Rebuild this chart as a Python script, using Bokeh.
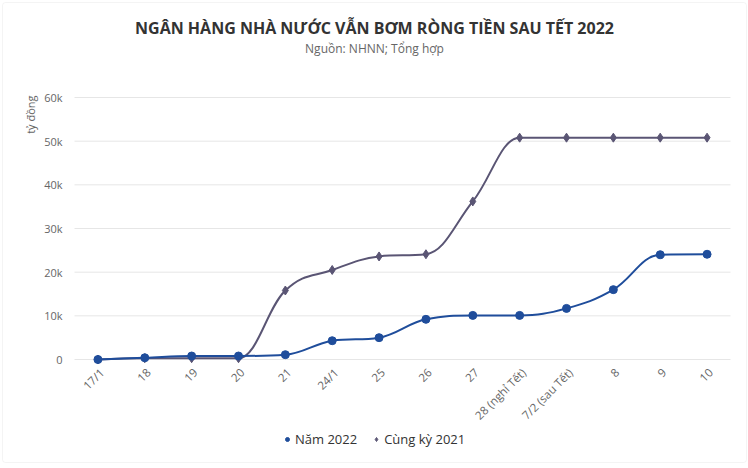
import math
from bokeh.plotting import figure
from bokeh.models import (Range1d, Label, Legend, LegendItem,
                          ColumnDataSource, BoxAnnotation)
from bokeh.core.properties import value
from bokeh.embed import file_html
from bokeh.resources import INLINE

# ---------------- data ----------------
categories = ["17/1", "18", "19", "20", "21", "24/1", "25", "26", "27",
              "28 (nghỉ Tết)", "7/2 (sau Tết)", "8", "9", "10"]
nam_2022 = [0, 400, 800, 800, 1100, 4300, 5000, 9200, 10100, 10100,
            11700, 16000, 24000, 24100]
cung_ky_2021 = [0, 300, 300, 300, 15800, 20500, 23600, 24100, 36200,
                50800, 50800, 50800, 50800, 50800]
y_ticks = [0, 10000, 20000, 30000, 40000, 50000, 60000]
y_tick_labels = ["0", "10k", "20k", "30k", "40k", "50k", "60k"]
series_names = ["Năm 2022", "Cùng kỳ 2021"]
title_text = "NGÂN HÀNG NHÀ NƯỚC VẪN BƠM RÒNG TIỀN SAU TẾT 2022"
subtitle_text = "Nguồn: NHNN; Tổng hợp"
y_title = "tỷ đồng"

FONT = "Open Sans"
C2022 = "#1f4d9b"
C2021 = "#5a5574"


def spline_segments(xs, ys, smoothing=1.5):
    """Highcharts-style spline control points, computed from the data."""
    n = len(xs)
    lc = [None] * n
    rc = [None] * n
    denom = smoothing + 1
    for i in range(1, n - 1):
        px, py = xs[i], ys[i]
        lx, ly = xs[i - 1], ys[i - 1]
        nx, ny = xs[i + 1], ys[i + 1]
        lcx = (smoothing * px + lx) / denom
        lcy = (smoothing * py + ly) / denom
        rcx = (smoothing * px + nx) / denom
        rcy = (smoothing * py + ny) / denom
        if rcx != lcx:
            corr = ((rcy - lcy) * (rcx - px)) / (rcx - lcx) + py - rcy
            lcy += corr
            rcy += corr
        if lcy > ly and lcy > py:
            lcy = max(ly, py)
            rcy = 2 * py - lcy
        elif lcy < ly and lcy < py:
            lcy = min(ly, py)
            rcy = 2 * py - lcy
        if rcy > ny and rcy > py:
            rcy = max(ny, py)
            lcy = 2 * py - rcy
        elif rcy < ny and rcy < py:
            rcy = min(ny, py)
            lcy = 2 * py - rcy
        lc[i] = (lcx, lcy)
        rc[i] = (rcx, rcy)
    d = dict(x0=[], y0=[], x1=[], y1=[], cx0=[], cy0=[], cx1=[], cy1=[])
    for i in range(1, n):
        sx, sy = xs[i - 1], ys[i - 1]
        ex, ey = xs[i], ys[i]
        c0 = rc[i - 1] if rc[i - 1] else (sx, sy)
        c1 = lc[i] if lc[i] else (ex, ey)
        d["x0"].append(sx); d["y0"].append(sy)
        d["x1"].append(ex); d["y1"].append(ey)
        d["cx0"].append(c0[0]); d["cy0"].append(c0[1])
        d["cx1"].append(c1[0]); d["cy1"].append(c1[1])
    return d


n = len(categories)
xs = list(range(n))

# ---------------- layout (pixels) ----------------
W, H = 748, 468
PLOT_L, PLOT_R = 74, 730          # plot area left/right edges
PLOT_T, PLOT_B = 97, 359          # pixel rows of top tick and zero line
ymax = y_ticks[-1]
cat_w = (PLOT_R - PLOT_L) / n
x_start = -0.5 - PLOT_L / cat_w
x_end = x_start + W / cat_w
ppu = (PLOT_B - PLOT_T) / ymax
y_start = -(H - PLOT_B) / ppu
y_end = ymax + PLOT_T / ppu

p = figure(width=W, height=H, output_backend="svg", toolbar_location=None,
           x_range=Range1d(x_start, x_end), y_range=Range1d(y_start, y_end),
           x_axis_location=None, y_axis_location=None,
           min_border=0, background_fill_color="white",
           border_fill_color="white")
p.outline_line_color = None
p.xgrid.visible = False
p.ygrid.visible = False

# chart border
p.add_layout(BoxAnnotation(left=2, right=746, bottom=H - 462, top=H - 2,
                           left_units="screen", right_units="screen",
                           top_units="screen", bottom_units="screen",
                           fill_alpha=0, line_color="#dcdcdc", line_width=1,
                           border_radius=3))

# y gridlines and labels
p.segment(x0=[-0.5] * len(y_ticks), x1=[n - 0.5] * len(y_ticks),
          y0=y_ticks, y1=y_ticks, line_color="#e6e6e6", line_width=1)
p.text(x=[-0.5] * len(y_ticks), y=y_ticks, text=y_tick_labels,
       x_offset=-12, text_align="right", text_baseline="middle",
       text_font=value(FONT), text_font_size="11px", text_color="#666666")

# x labels
p.text(x=xs, y=[0] * n, text=categories, angle=math.pi / 4,
       x_offset=4, y_offset=11, text_align="right", text_baseline="middle",
       text_font=value(FONT), text_font_size="11.5px", text_color="#666666")

# series
s21 = ColumnDataSource(spline_segments(xs, cung_ky_2021))
s22 = ColumnDataSource(spline_segments(xs, nam_2022))
p.bezier(x0="x0", y0="y0", x1="x1", y1="y1", cx0="cx0", cy0="cy0",
         cx1="cx1", cy1="cy1", source=s21, line_color=C2021, line_width=2)
p.bezier(x0="x0", y0="y0", x1="x1", y1="y1", cx0="cx0", cy0="cy0",
         cx1="cx1", cy1="cy1", source=s22, line_color=C2022, line_width=2)
m21 = p.scatter(xs, cung_ky_2021, marker="diamond", size=9, color=C2021)
m22 = p.scatter(xs, nam_2022, marker="circle", size=8, color=C2022)

# titles
p.add_layout(Label(x=374, y=H - 27, x_units="screen", y_units="screen",
                   text=title_text, text_align="center",
                   text_baseline="middle", text_font=FONT,
                   text_font_size="16px", text_font_style="bold",
                   text_color="#333333"))
p.add_layout(Label(x=374, y=H - 48, x_units="screen", y_units="screen",
                   text=subtitle_text, text_align="center",
                   text_baseline="middle", text_font=FONT,
                   text_font_size="12px", text_color="#666666"))
p.add_layout(Label(x=30, y=H - 95, x_units="screen", y_units="screen",
                   text=y_title, angle=math.pi / 2, text_align="right",
                   text_baseline="middle", text_font=FONT,
                   text_font_size="11px", text_color="#666666"))

legend = Legend(items=[LegendItem(label=series_names[0], renderers=[m22]),
                       LegendItem(label=series_names[1], renderers=[m21])],
                orientation="horizontal", location=(282, 20),
                label_text_font=FONT, label_text_font_size="13px",
                label_text_color="#333333", glyph_width=10, glyph_height=10,
                spacing=14, label_standoff=3, padding=4, margin=0,
                background_fill_alpha=0, border_line_color=None)
p.add_layout(legend, "center")

open("out.html", "w").write(file_html(p, INLINE))
